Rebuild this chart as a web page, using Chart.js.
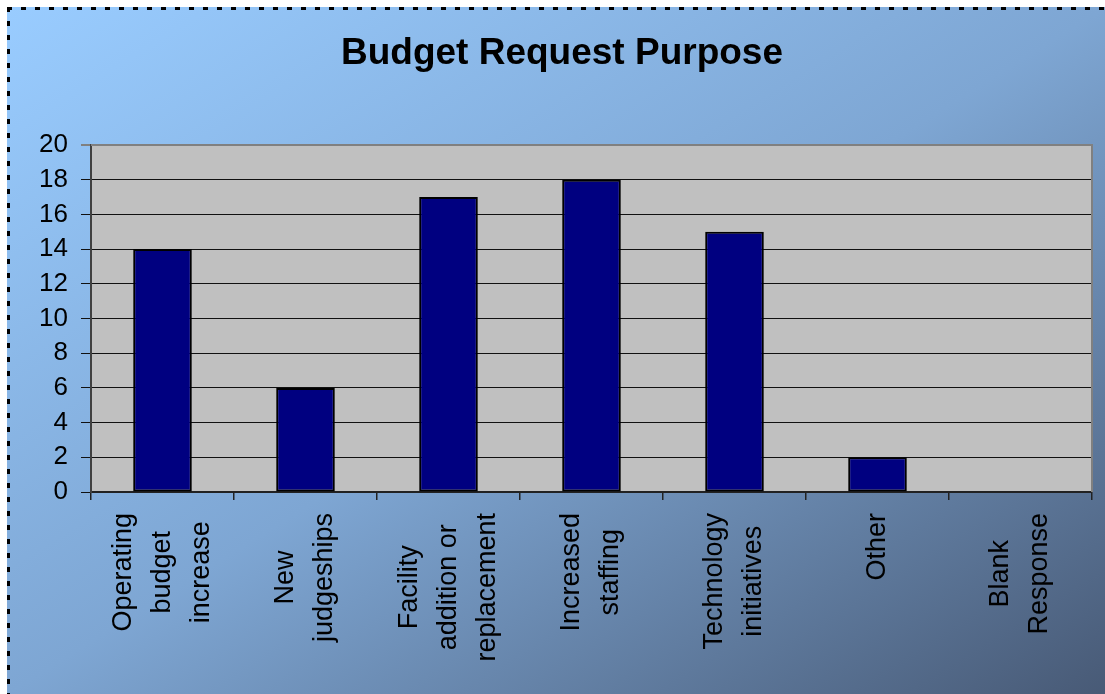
<!DOCTYPE html>
<html>
<head>
<meta charset="utf-8">
<script src="https://cdn.jsdelivr.net/npm/chart.js@4"></script>
<style>
  html, body { margin: 0; padding: 0; background: #fff; }
  canvas { display: block; }
</style>
</head>
<body>
<canvas id="chart" width="1105" height="694"></canvas>
<script>
const purposes = [
    ["Operating", "budget", "increase"],
    ["New", "judgeships"],
    ["Facility", "addition or", "replacement"],
    ["Increased", "staffing"],
    ["Technology", "initiatives"],
    ["Other"],
    ["Blank", "Response"]
];
const responses = [14, 6, 17, 18, 15, 2, 0];
const yTicks = [0, 2, 4, 6, 8, 10, 12, 14, 16, 18, 20];

const FONT = '"Liberation Sans", Arial, sans-serif';

// blue gradient panel with the dashed frame, plus the grey plot area
const backdrop = {
    id: "backdrop",
    beforeDraw(chart) {
        const ctx = chart.ctx;
        const w = chart.width, h = chart.height;
        ctx.save();
        ctx.fillStyle = "#fff";
        ctx.fillRect(0, 0, w, h);

        const gw = w - 8, gh = h - 8;
        const k = 2 / (1 / (gw * gw) + 1 / (gh * gh));
        const grad = ctx.createLinearGradient(8, 8, 8 + k / gw, 8 + k / gh);
        grad.addColorStop(0, "#99ccff");
        grad.addColorStop(0.5, "#7ea6d3");
        grad.addColorStop(1, "#485a76");
        ctx.fillStyle = grad;
        ctx.fillRect(7, 7, w - 7, h - 7);

        ctx.strokeStyle = "#000";
        ctx.lineWidth = 3;
        ctx.setLineDash([5, 9]);
        ctx.beginPath();
        ctx.moveTo(7, 8.5);
        ctx.lineTo(w, 8.5);
        ctx.moveTo(8.5, 7);
        ctx.lineTo(8.5, h);
        ctx.stroke();
        ctx.setLineDash([]);

        const a = chart.chartArea;
        ctx.fillStyle = "#c0c0c0";
        ctx.fillRect(a.left, a.top, a.right - a.left, a.bottom - a.top);
        ctx.restore();
    },
    afterDatasetsDraw(chart) {
        const ctx = chart.ctx;
        const a = chart.chartArea;
        ctx.save();
        ctx.strokeStyle = "#808080";
        ctx.lineWidth = 2;
        ctx.beginPath();
        ctx.moveTo(a.left, a.top);
        ctx.lineTo(a.right, a.top);
        ctx.lineTo(a.right, a.bottom);
        ctx.stroke();
        ctx.restore();
    }
};

// vertical category names, each line centred on the longest one
const verticalLabels = {
    id: "verticalLabels",
    afterDraw(chart) {
        const ctx = chart.ctx;
        const xs = chart.scales.x;
        const lineGap = 39;
        ctx.save();
        ctx.font = "27px " + FONT;
        ctx.fillStyle = "#000";
        ctx.textAlign = "center";
        ctx.textBaseline = "middle";
        purposes.forEach((lines, i) => {
            const longest = Math.max(...lines.map(l => ctx.measureText(l).width));
            const cx = xs.getPixelForTick(i);
            const cy = xs.top + 21 + longest / 2;
            ctx.save();
            ctx.translate(cx, cy);
            ctx.rotate(-Math.PI / 2);
            lines.forEach((line, j) => {
                ctx.fillText(line, 0, (j - (lines.length - 1) / 2) * lineGap);
            });
            ctx.restore();
        });
        ctx.restore();
    }
};

new Chart(document.getElementById("chart"), {
    type: "bar",
    data: {
        labels: purposes,
        datasets: [{
            data: responses,
            backgroundColor: "#000080",
            borderColor: "#000",
            borderWidth: 2,
            borderSkipped: false,
            barPercentage: 0.41,
            categoryPercentage: 1
        }]
    },
    options: {
        responsive: false,
        animation: false,
        layout: { padding: { top: 10, right: 13, left: 32, bottom: 0 } },
        plugins: {
            legend: { display: false },
            tooltip: { enabled: false },
            title: {
                display: true,
                text: "Budget Request Purpose",
                color: "#000",
                font: { family: FONT, size: 37, weight: "bold" },
                padding: { top: 22, bottom: 68.6 }
            }
        },
        scales: {
            x: {
                offset: true,
                afterFit(s) { s.height = 202; },
                ticks: { display: false },
                grid: {
                    offset: true,
                    drawOnChartArea: false,
                    tickLength: 8,
                    color: "#222",
                    lineWidth: 1.5
                },
                border: { color: "#222", width: 2 }
            },
            y: {
                min: 0,
                max: 20,
                afterFit(s) { s.width = 59; },
                afterBuildTicks(s) { s.ticks = yTicks.map(v => ({ value: v })); },
                ticks: {
                    padding: 13,
                    color: "#000",
                    font: { family: FONT, size: 26 }
                },
                grid: {
                    tickLength: 10,
                    color: c => (c.tick && c.tick.value === 20 ? "#808080" : "#111"),
                    lineWidth: c => (c.tick && c.tick.value === 20 ? 2 : 1)
                },
                border: { color: "#404040", width: 2 }
            }
        }
    },
    plugins: [backdrop, verticalLabels]
});
</script>
</body>
</html>
